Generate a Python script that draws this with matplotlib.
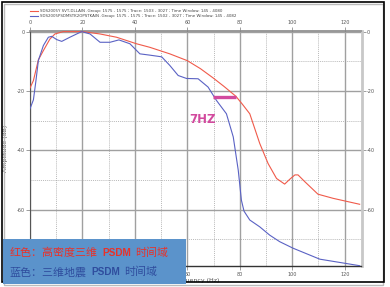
import matplotlib
matplotlib.use("Agg")
import matplotlib.pyplot as plt
import matplotlib.ticker as ticker
from matplotlib.patches import Rectangle

# ── Data ──────────────────────────────────────────────────────────────────────
RED_HZ = [0, 1.3, 3.2, 5.1, 7.6, 9.5, 12.7, 20, 26.7, 33, 40.6, 45.7, 53.3, 60,
          65, 69.8, 74, 78.5, 81, 83.8, 87.6, 90.8, 94, 97.1, 99, 101, 102.2,
          104.8, 109.8, 115.6, 125.7]
RED_DB = [-19, -16.5, -9.5, -6.4, -2.5, -0.8, 0, 0, -0.8, -1.9, -4.1, -5.3, -7.5,
          -9.8, -12.5, -15.6, -18.5, -21.8, -24.5, -27.7, -37.7, -44.5, -49.5,
          -51.4, -49.8, -48.3, -48.3, -50.6, -54.8, -56.2, -58.2]

BLUE_HZ = [0, 1.3, 2.2, 3.2, 5.1, 7.0, 8.3, 10.2, 12.1, 15.2, 19.7, 22.9, 26.7,
           30.5, 33.9, 38.1, 41.9, 45.4, 50.2, 53.3, 56.5, 59.7, 64.1, 67.9,
           71.1, 74.9, 77.5, 79.4, 80.6, 81.6, 83.8, 87.6, 91.4, 95.2, 100.3,
           110.5, 125.7]
BLUE_DB = [-26, -23, -17, -9.7, -4.7, -1.9, -1.6, -2.7, -3.3, -1.9, 0, -0.8,
           -3.6, -3.6, -2.8, -4.1, -7.5, -7.9, -8.5, -11.4, -14.8, -15.8, -15.9,
           -18.7, -23.2, -27.7, -35.5, -46.7, -56.8, -60.5, -63.5, -65.8, -68.6,
           -70.8, -73, -76.7, -78.9]

MARK_HZ = [69.7, 78.7]
MARK_DB = [-22.1, -22.1]

YTICKS = [0, -20, -40, -60]

LEGEND = [
    "SDS2005Y SVT,DLLAIN .Group: 1575 - 1575 ; Trace: 1503 - 3027 ; Time Window: 145 - 4080",
    "SDS2005PSDMSTK2OPSTKAIN .Group: 1575 - 1575 ; Trace: 1502 - 3027 ; Time Window: 145 - 4082",
]

CAPTION = [
    ("红色：高密度三维", "PSDM", "时间域"),
    ("蓝色：三维地震", "PSDM", "时间域"),
]

RED = "#f05a4a"
BLUE = "#5a62c4"
MAGENTA = "#d24a9e"

W, H = 390, 287
fig = plt.figure(figsize=(W / 100, H / 100), dpi=100)
fig.patch.set_facecolor("white")

def fx(px):
    return px / W

def fy(py):
    return 1 - py / H

ax = fig.add_axes([fx(30), fy(266), fx(361.5) - fx(30), fy(31) - fy(266)])
ax.set_xlim(0, 126.4)
ax.set_ylim(-79, 0.2)

ax.plot(RED_HZ, RED_DB, color=RED, lw=0.8, zorder=3)
ax.plot(BLUE_HZ, BLUE_DB, color=BLUE, lw=0.8, zorder=3)
ax.plot(MARK_HZ, MARK_DB, color=MAGENTA, lw=2.4, solid_capstyle="butt", zorder=4)
ax.text(65.9, -29.6, "7HZ", color=MAGENTA, fontsize=8.5, fontweight="bold",
        ha="center", va="center", zorder=5)

# grid
ax.xaxis.set_major_locator(ticker.MultipleLocator(20))
ax.xaxis.set_minor_locator(ticker.MultipleLocator(10))
ax.yaxis.set_major_locator(ticker.MultipleLocator(20))
ax.yaxis.set_minor_locator(ticker.MultipleLocator(10))
ax.grid(True, which="major", color="#a0a0a0", lw=1.0, zorder=0)
ax.grid(True, which="minor", color="#a0a0a0", lw=0.5, ls=(0, (1.5, 1.5)), zorder=0)

ax.tick_params(which="major", labelsize=3.5, labelcolor="#555555", color="#777777",
               length=3, width=0.5, top=True, labeltop=True, right=True,
               labelright=True, pad=1)
ax.tick_params(which="minor", length=0)
ax.set_yticks(YTICKS)
ax.set_yticklabels([f"{v:d}" for v in YTICKS])

# bottom labels left of 60 Hz sit under the caption box
fig.canvas.draw()
for tick in ax.xaxis.get_major_ticks():
    if tick.get_loc() < 50:
        tick.label1.set_visible(False)

ax.spines["top"].set_color("#888888")
ax.spines["top"].set_linewidth(1.2)
ax.spines["left"].set_color("#555555")
ax.spines["left"].set_linewidth(0.8)
ax.spines["bottom"].set_color("#333333")
ax.spines["bottom"].set_linewidth(1.0)
ax.spines["right"].set_color("#c8c8c8")
ax.spines["right"].set_linewidth(2.0)

ax.set_xlabel("Frequency (Hz)", fontsize=4.5, color="#555555", labelpad=1)
ax.set_ylabel("Amplitude (dB)", fontsize=4.5, color="#555555", labelpad=6)

# legend lines at top
for i, (txt, col) in enumerate(zip(LEGEND, [RED, BLUE])):
    y = 11 + 5 * i
    fig.add_artist(plt.Line2D([fx(30), fx(38)], [fy(y), fy(y)], color=col, lw=0.8))
    fig.text(fx(40), fy(y), txt, fontsize=2.9, color="#444444", va="center")

# outer frame with shadow
fig.add_artist(Rectangle((fx(4), fy(285)), fx(383) - fx(4), fy(4) - fy(285),
                         transform=fig.transFigure, fill=False,
                         edgecolor="#bbbbbb", lw=1.0))
fig.add_artist(Rectangle((fx(2), fy(282)), fx(384) - fx(2), fy(2) - fy(282),
                         transform=fig.transFigure, fill=False,
                         edgecolor="black", lw=1.2))

# blue caption box
fig.add_artist(Rectangle((fx(3), fy(284)), fx(186) - fx(3), fy(239) - fy(284),
                         transform=fig.transFigure, facecolor="#5b93cb",
                         edgecolor="none", zorder=10))

CJK = ["Noto Sans CJK SC", "DejaVu Sans"]
renderer = fig.canvas.get_renderer()
for (a, b, c), col, py in zip(CAPTION, ["#e8322a", "#2f4d9e"], [253, 272]):
    x = 10
    for txt, fam, size, wt in [(a, CJK, 7.9, "normal"),
                               (b, ["Liberation Sans"], 7.2, "bold"),
                               (c, CJK, 7.9, "normal")]:
        t = fig.text(fx(x), fy(py), txt, family=fam, fontsize=size, color=col,
                     fontweight=wt, va="center", ha="left", zorder=11)
        x = t.get_window_extent(renderer).x1 + 4

fig.savefig("out.png", dpi=100)
